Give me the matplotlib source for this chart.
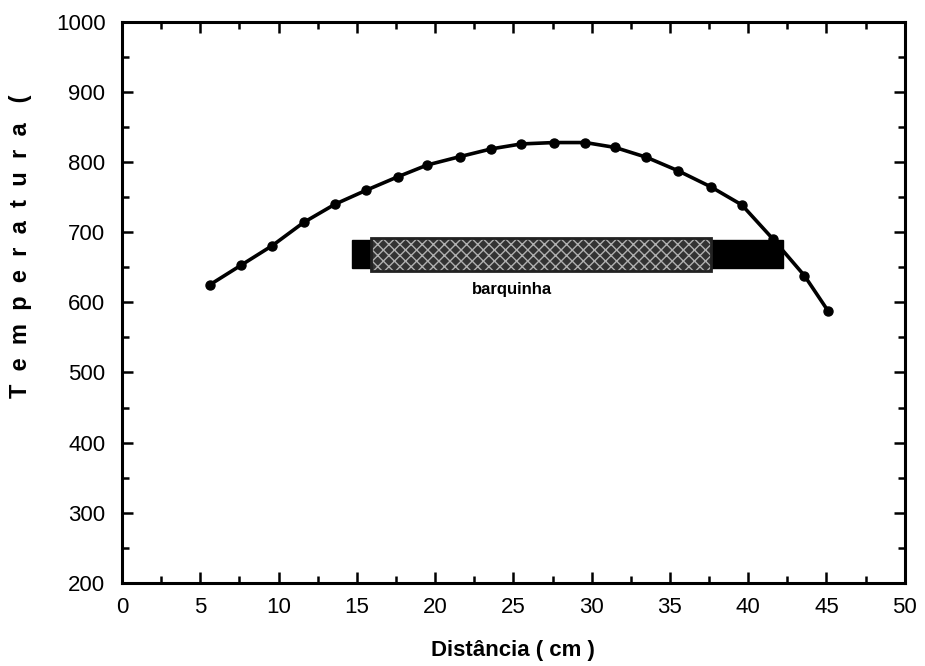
import matplotlib
matplotlib.use("Agg")
import matplotlib.pyplot as plt
from matplotlib.patches import Rectangle
from matplotlib.ticker import MultipleLocator

plt.rcParams['font.family'] = ['Liberation Sans', 'DejaVu Sans']
plt.rcParams['hatch.linewidth'] = 1.0

# Data
distancia = [5.6, 7.6, 9.6, 11.6, 13.6, 15.6, 17.6, 19.5, 21.6, 23.6, 25.5,
             27.6, 29.6, 31.5, 33.5, 35.5, 37.6, 39.6, 41.6, 43.6, 45.1]
temperatura = [625, 653, 681, 714, 740, 760, 779, 796, 808, 819, 826,
               828, 828, 821, 807, 788, 765, 739, 690, 638, 588]

boat_outer = (14.7, 42.2, 649, 689)   # x0, x1, y0, y1 (black part)
boat_inner = (15.9, 37.6, 645, 692)   # hatched part
boat_label = "barquinha"

fig = plt.figure(figsize=(9.25, 6.66), dpi=100)
ax = fig.add_axes([0.132, 0.125, 0.846, 0.842])

# boat
x0, x1, y0, y1 = boat_outer
ax.add_patch(Rectangle((x0, y0), x1 - x0, y1 - y0, facecolor='black',
                       edgecolor='black', zorder=2))
x0, x1, y0, y1 = boat_inner
ax.add_patch(Rectangle((x0, y0), x1 - x0, y1 - y0, facecolor='#333333',
                       edgecolor='#b0b0b0', hatch='xxx', linewidth=0, zorder=3))
ax.add_patch(Rectangle((x0, y0), x1 - x0, y1 - y0, facecolor='none',
                       edgecolor='#222222', linewidth=2, zorder=4))
ax.text(24.9, 619, boat_label, ha='center', va='center', fontsize=12,
        fontweight='bold', zorder=5)

ax.plot(distancia, temperatura, '-o', color='black', linewidth=2.6,
        markersize=6.5, zorder=6)

ax.set_xlim(0, 50)
ax.set_ylim(200, 1000)
ax.xaxis.set_major_locator(MultipleLocator(5))
ax.xaxis.set_minor_locator(MultipleLocator(2.5))
ax.yaxis.set_major_locator(MultipleLocator(100))
ax.yaxis.set_minor_locator(MultipleLocator(50))
ax.tick_params(which='both', direction='in', top=True, right=True,
               width=1.8, labelsize=16)
ax.tick_params(axis='x', pad=10)
ax.tick_params(axis='y', pad=12)
ax.tick_params(which='major', length=8)
ax.tick_params(which='minor', length=5)
for s in ax.spines.values():
    s.set_linewidth(2.2)

ax.set_xlabel('Distância ( cm )', fontsize=16, fontweight='bold', labelpad=16)
ax.set_ylabel('T  e  m  p  e  r  a  t  u  r  a   (', fontsize=17,
              fontweight='bold')
ax.yaxis.set_label_coords(-0.115, 0.60)

fig.savefig('out.png', dpi=100, facecolor='white')
